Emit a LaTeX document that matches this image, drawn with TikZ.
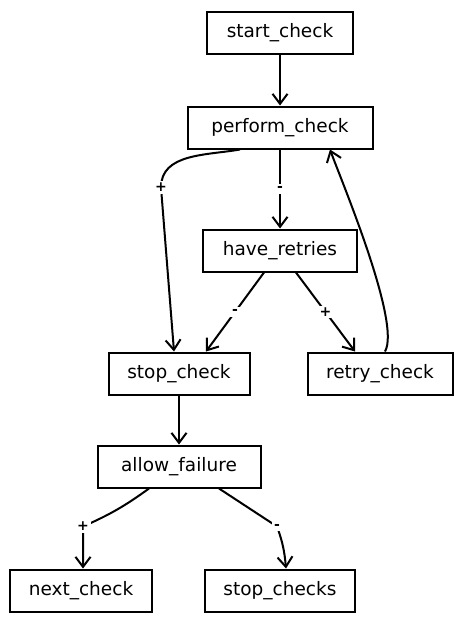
\documentclass[tikz,border=0pt]{standalone}
\usepackage{fontspec}
\setsansfont{DejaVu Sans}
\usetikzlibrary{positioning, arrows.meta}

\begin{document}
\begin{tikzpicture}[
  x=1pt, y=1pt,
  font=\sffamily,
  state/.style={rectangle, draw, line width=2pt, minimum height=42pt, inner sep=2pt, font=\sffamily\fontsize{18.5}{22}\selectfont},
  flow/.style={-{Straight Barb[length=10pt, width=15pt, line width=2pt]}, line width=2pt},
  cond/.style={fill=white, inner sep=2pt, font=\sffamily\bfseries\fontsize{14}{16}\selectfont}
]
\useasboundingbox (0,0) rectangle (462,-621);

%--------------------------------------
% Check loop
%--------------------------------------
\node[state, minimum width=146pt] (start_check) at (280,-32.5) {start\_check};
\node[state, minimum width=185pt, below=51pt of start_check] (perform_check) {perform\_check};
\node[state, minimum width=154pt, below=79pt of perform_check] (have_retries) {have\_retries};
\node[state, minimum width=141pt, below=79pt of have_retries, xshift=-101pt] (stop_check) {stop\_check};
\node[state, minimum width=145pt, right=56pt of stop_check] (retry_check) {retry\_check};

%--------------------------------------
% Failure handling
%--------------------------------------
\node[state, minimum width=163pt, below=49pt of stop_check] (allow_failure) {allow\_failure};
\node[state, minimum width=142pt, below=80pt of allow_failure, xshift=-98pt] (next_check) {next\_check};
\node[state, minimum width=150pt, right=51pt of next_check] (stop_checks) {stop\_checks};

%--------------------------------------
% Arrows and connections
%--------------------------------------
\draw[flow] (start_check) -- (perform_check);
\draw[flow] (perform_check) -- node[cond]{-} (have_retries);
\draw[flow] ([xshift=-40pt]perform_check.south) to[out=190, in=90] ++(-79pt,-38pt) node[cond]{+} -- ([xshift=-5pt]stop_check.north);

\draw[flow] ([xshift=-16pt]have_retries.south) -- node[cond]{-} ([xshift=27pt]stop_check.north);
\draw[flow] ([xshift=16pt]have_retries.south) -- node[cond]{+} ([xshift=-25pt]retry_check.north);

% Retry goes back to the check
\draw[flow] ([xshift=5pt]retry_check.north) to[out=60, in=-70, looseness=0.4] ([xshift=50pt]perform_check.south);

\draw[flow] (stop_check) -- (allow_failure);

\draw[flow] ([xshift=-30pt]allow_failure.south) to[bend left=6] ++(-66pt,-38pt) node[cond]{+} -- ([xshift=2pt]next_check.north);
\draw[flow] ([xshift=40pt]allow_failure.south) -- ++(58pt,-38pt) node[cond]{-} to[out=-70, in=95] ([xshift=6pt]stop_checks.north);

\end{tikzpicture}
\end{document}
